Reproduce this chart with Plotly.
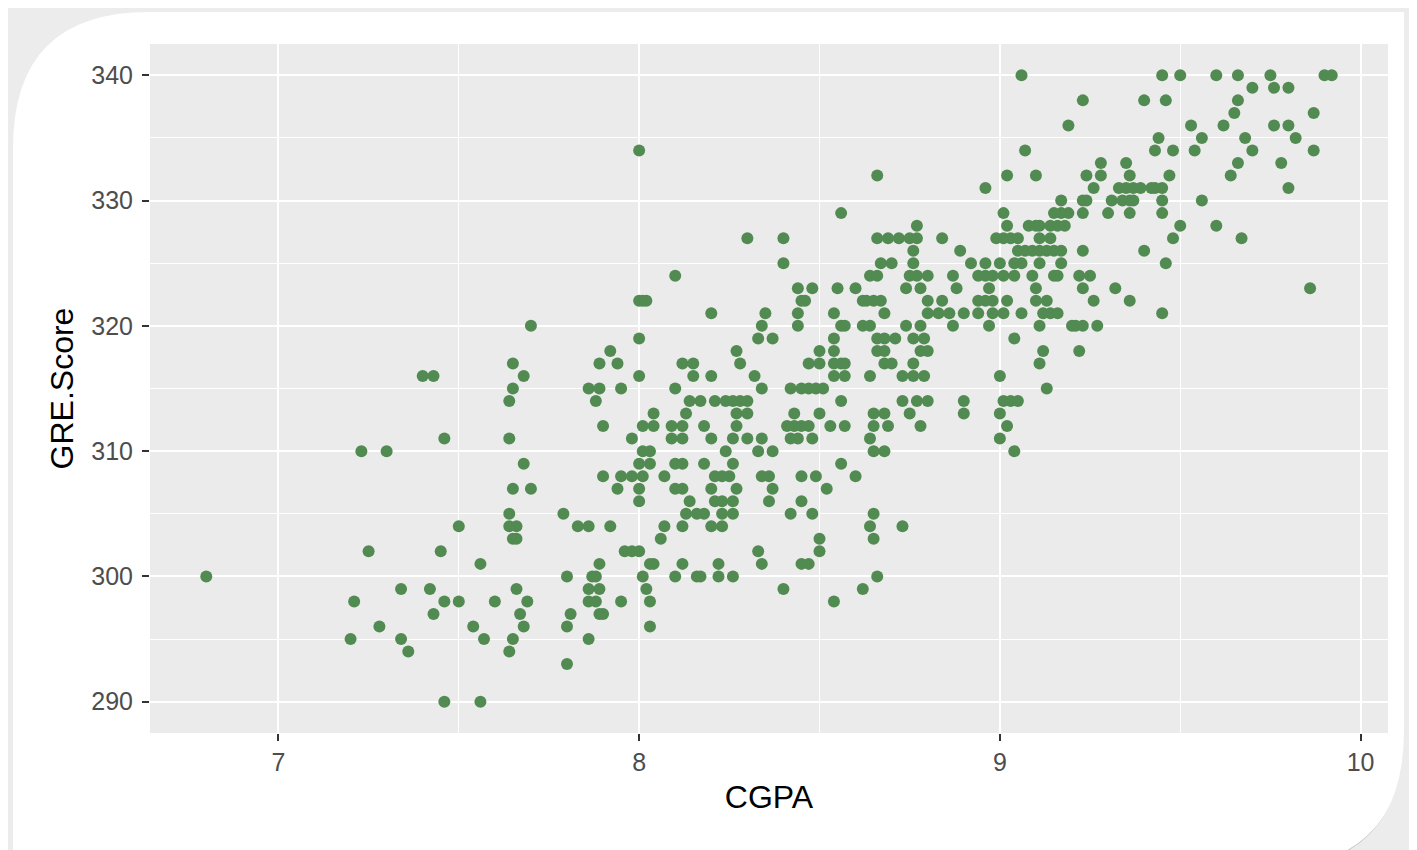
import plotly.graph_objects as go

# GRE score levels (integer rows) and the CGPA values read for each row
gre_levels = [340, 339, 338, 337, 336, 335, 334, 333, 332, 331, 330, 329, 328, 327,
              326, 325, 324, 323, 322, 321, 320, 319, 318, 317, 316, 315, 314, 313,
              312, 311, 310, 309, 308, 307, 306, 305, 304, 303, 302, 301, 300, 299,
              298, 297, 296, 295, 294, 293, 290]

cgpa_rows = [
    [9.06, 9.45, 9.50, 9.60, 9.66, 9.75, 9.90, 9.92],                       # 340
    [9.70, 9.76, 9.80],                                                       # 339
    [9.23, 9.40, 9.46, 9.66],                                                 # 338
    [9.65, 9.87],                                                             # 337
    [9.19, 9.53, 9.62, 9.76, 9.80],                                           # 336
    [9.44, 9.56, 9.68, 9.82],                                                 # 335
    [8.00, 9.07, 9.43, 9.48, 9.54, 9.70, 9.87],                               # 334
    [9.28, 9.35, 9.66, 9.78],                                                 # 333
    [8.66, 9.02, 9.10, 9.24, 9.28, 9.36, 9.47, 9.64],                         # 332
    [8.96, 9.26, 9.33, 9.35, 9.37, 9.39, 9.42, 9.43, 9.45, 9.80],             # 331
    [9.17, 9.23, 9.24, 9.31, 9.34, 9.36, 9.37, 9.45, 9.56],                   # 330
    [8.56, 9.01, 9.15, 9.17, 9.19, 9.23, 9.30, 9.36, 9.45],                   # 329
    [8.77, 9.02, 9.08, 9.10, 9.11, 9.14, 9.16, 9.18, 9.50, 9.60],             # 328
    [8.30, 8.40, 8.66, 8.69, 8.72, 8.75, 8.77, 8.84, 8.99, 9.01, 9.03, 9.05,
     9.11, 9.14, 9.48, 9.67],                                                 # 327
    [8.76, 8.89, 9.05, 9.07, 9.09, 9.11, 9.13, 9.15, 9.17, 9.23, 9.40],       # 326
    [8.40, 8.67, 8.70, 8.76, 8.92, 8.96, 9.00, 9.04, 9.06, 9.11, 9.17, 9.46], # 325
    [8.10, 8.64, 8.66, 8.75, 8.77, 8.80, 8.87, 8.94, 8.96, 8.98, 9.01, 9.04,
     9.09, 9.15, 9.16, 9.22, 9.25],                                           # 324
    [8.44, 8.48, 8.55, 8.60, 8.74, 8.78, 8.88, 8.97, 9.10, 9.23, 9.32, 9.86], # 323
    [8.00, 8.01, 8.02, 8.45, 8.46, 8.62, 8.63, 8.65, 8.67, 8.80, 8.84, 8.94,
     8.96, 8.98, 9.02, 9.10, 9.13, 9.26, 9.36],                               # 322
    [8.20, 8.35, 8.44, 8.54, 8.68, 8.80, 8.83, 8.86, 8.90, 8.94, 8.98, 9.01,
     9.06, 9.12, 9.14, 9.16, 9.45],                                           # 321
    [7.70, 8.34, 8.44, 8.56, 8.57, 8.62, 8.64, 8.74, 8.78, 8.87, 8.97, 9.11,
     9.20, 9.21, 9.23, 9.27],                                                 # 320
    [8.00, 8.33, 8.37, 8.54, 8.66, 8.68, 8.71, 8.76, 8.79, 9.04],             # 319
    [7.92, 8.27, 8.50, 8.54, 8.66, 8.68, 8.78, 8.80, 9.12, 9.22],             # 318
    [7.65, 7.89, 7.94, 8.12, 8.15, 8.28, 8.47, 8.50, 8.54, 8.56, 8.57, 8.68,
     8.70, 8.76, 9.11],                                                       # 317
    [7.40, 7.43, 7.68, 8.00, 8.15, 8.20, 8.32, 8.54, 8.57, 8.64, 8.73, 8.76,
     8.79, 9.00],                                                             # 316
    [7.65, 7.86, 7.89, 7.95, 8.10, 8.34, 8.42, 8.45, 8.47, 8.49, 8.51, 9.13], # 315
    [7.64, 7.88, 8.14, 8.17, 8.21, 8.24, 8.26, 8.28, 8.30, 8.56, 8.73, 8.77,
     8.80, 8.90, 9.01, 9.03, 9.05],                                           # 314
    [8.04, 8.13, 8.27, 8.30, 8.43, 8.50, 8.65, 8.68, 8.75, 8.90, 9.00],       # 313
    [7.90, 8.01, 8.04, 8.09, 8.12, 8.18, 8.27, 8.41, 8.43, 8.45, 8.47, 8.53,
     8.57, 8.65, 8.69, 8.78, 9.02],                                           # 312
    [7.46, 7.64, 7.98, 8.09, 8.12, 8.20, 8.26, 8.30, 8.34, 8.42, 8.44, 8.48,
     8.64, 9.00],                                                             # 311
    [7.23, 7.30, 8.01, 8.03, 8.24, 8.33, 8.37, 8.65, 8.68, 9.04],             # 310
    [7.68, 8.00, 8.03, 8.10, 8.12, 8.18, 8.26, 8.56],                         # 309
    [7.90, 7.95, 7.98, 8.01, 8.07, 8.21, 8.23, 8.25, 8.34, 8.36, 8.45, 8.49,
     8.60],                                                                   # 308
    [7.65, 7.70, 7.94, 8.00, 8.10, 8.12, 8.20, 8.27, 8.37, 8.52],             # 307
    [8.00, 8.14, 8.21, 8.23, 8.26, 8.36, 8.45],                               # 306
    [7.64, 7.79, 8.13, 8.16, 8.18, 8.23, 8.26, 8.42, 8.48, 8.65],             # 305
    [7.50, 7.64, 7.66, 7.83, 7.86, 7.92, 8.07, 8.12, 8.20, 8.23, 8.64, 8.73], # 304
    [7.65, 7.66, 8.06, 8.50, 8.65],                                           # 303
    [7.25, 7.45, 7.96, 7.98, 8.00, 8.33, 8.50],                               # 302
    [7.56, 7.89, 8.03, 8.04, 8.12, 8.22, 8.34, 8.45, 8.47],                   # 301
    [6.80, 7.80, 7.87, 7.88, 8.01, 8.10, 8.16, 8.17, 8.22, 8.26, 8.66],       # 300
    [7.34, 7.42, 7.66, 7.86, 7.89, 8.02, 8.40, 8.62],                         # 299
    [7.21, 7.46, 7.50, 7.60, 7.69, 7.86, 7.88, 7.95, 8.03, 8.54],             # 298
    [7.43, 7.67, 7.81, 7.89, 7.90],                                           # 297
    [7.28, 7.54, 7.68, 7.80, 8.03],                                           # 296
    [7.20, 7.34, 7.57, 7.65, 7.86],                                           # 295
    [7.36, 7.64],                                                             # 294
    [7.80],                                                                   # 293
    [7.46, 7.56],                                                             # 290
]

x_ticks = [7, 8, 9, 10]
y_ticks = [290, 300, 310, 320, 330, 340]
x_title = "CGPA"
y_title = "GRE.Score"

cgpa = []
gre_score = []
for level, row in zip(gre_levels, cgpa_rows):
    for v in row:
        cgpa.append(v)
        gre_score.append(level)

fig = go.Figure()
fig.add_trace(go.Scatter(
    x=cgpa, y=gre_score, mode="markers",
    marker=dict(size=12, color="#528B52", line=dict(width=0)),
    hoverinfo="x+y",
))

# page body has an 8px margin, so the figure is placed at (8, 8) on screen
OFF = 8
L, R, T, B = 150, 1388, 44, 733   # plot area in screen pixels
W, H = 1417 - OFF, 850 - OFF

def P(x, y):
    return f"{(x - L) / (R - L):.5f},{(B - y) / (B - T):.5f}"

def frame_path(left, top, right, rtl, rbr):
    outer = f"M{P(-10,-10)} L{P(1430,-10)} L{P(1430,870)} L{P(-10,870)} Z"
    inner = (f"M{P(left,870)} L{P(right - rbr,870)} "
             f"Q{P(right,870)} {P(right,870 - rbr)} "
             f"L{P(right,top)} L{P(left + rtl,top)} "
             f"Q{P(left,top)} {P(left,top + rtl)} Z")
    return outer + " " + inner

shapes = [
    dict(type="path", xref="paper", yref="paper", path=frame_path(9, 9, 1408, 140, 150),
         fillcolor="#c4c4c4", line=dict(width=0), layer="below"),
    dict(type="path", xref="paper", yref="paper", path=frame_path(11, 10, 1406, 138, 145),
         fillcolor="#d9d9d9", line=dict(width=0), layer="below"),
    dict(type="path", xref="paper", yref="paper", path=frame_path(13, 12, 1404, 136, 140),
         fillcolor="#ececec", line=dict(width=0), layer="below"),
]

fig.update_layout(
    width=W, height=H,
    margin=dict(l=L - OFF, r=W - (R - OFF), t=T - OFF, b=H - (B - OFF)),
    paper_bgcolor="white",
    plot_bgcolor="#EBEBEB",
    showlegend=False,
    font=dict(family="Liberation Sans, Arial, sans-serif"),
    shapes=shapes,
)
fig.update_xaxes(
    range=[6.644, 10.076], tickvals=x_ticks, ticktext=[str(t) for t in x_ticks],
    showgrid=True, gridcolor="white", gridwidth=2, zeroline=False, showline=False,
    ticks="outside", ticklen=7, tickwidth=1.5, tickcolor="#333333",
    tickfont=dict(size=25, color="#4D4D4D"),
    minor=dict(tickvals=[7.5, 8.5, 9.5], showgrid=True, gridcolor="white", gridwidth=1, ticks=""),
    title=dict(text=x_title, font=dict(size=32, color="black"), standoff=10),
)
fig.update_yaxes(
    range=[287.5, 342.5], tickvals=y_ticks, ticktext=[str(t) for t in y_ticks],
    showgrid=True, gridcolor="white", gridwidth=2, zeroline=False, showline=False,
    ticks="outside", ticklen=7, tickwidth=1.5, tickcolor="#333333",
    tickfont=dict(size=25, color="#4D4D4D"),
    ticklabelstandoff=4,
    minor=dict(tickvals=[295, 305, 315, 325, 335], showgrid=True, gridcolor="white", gridwidth=1, ticks=""),
    title=dict(text=y_title, font=dict(size=32, color="black"), standoff=8),
)

fig.write_html("out.html")
